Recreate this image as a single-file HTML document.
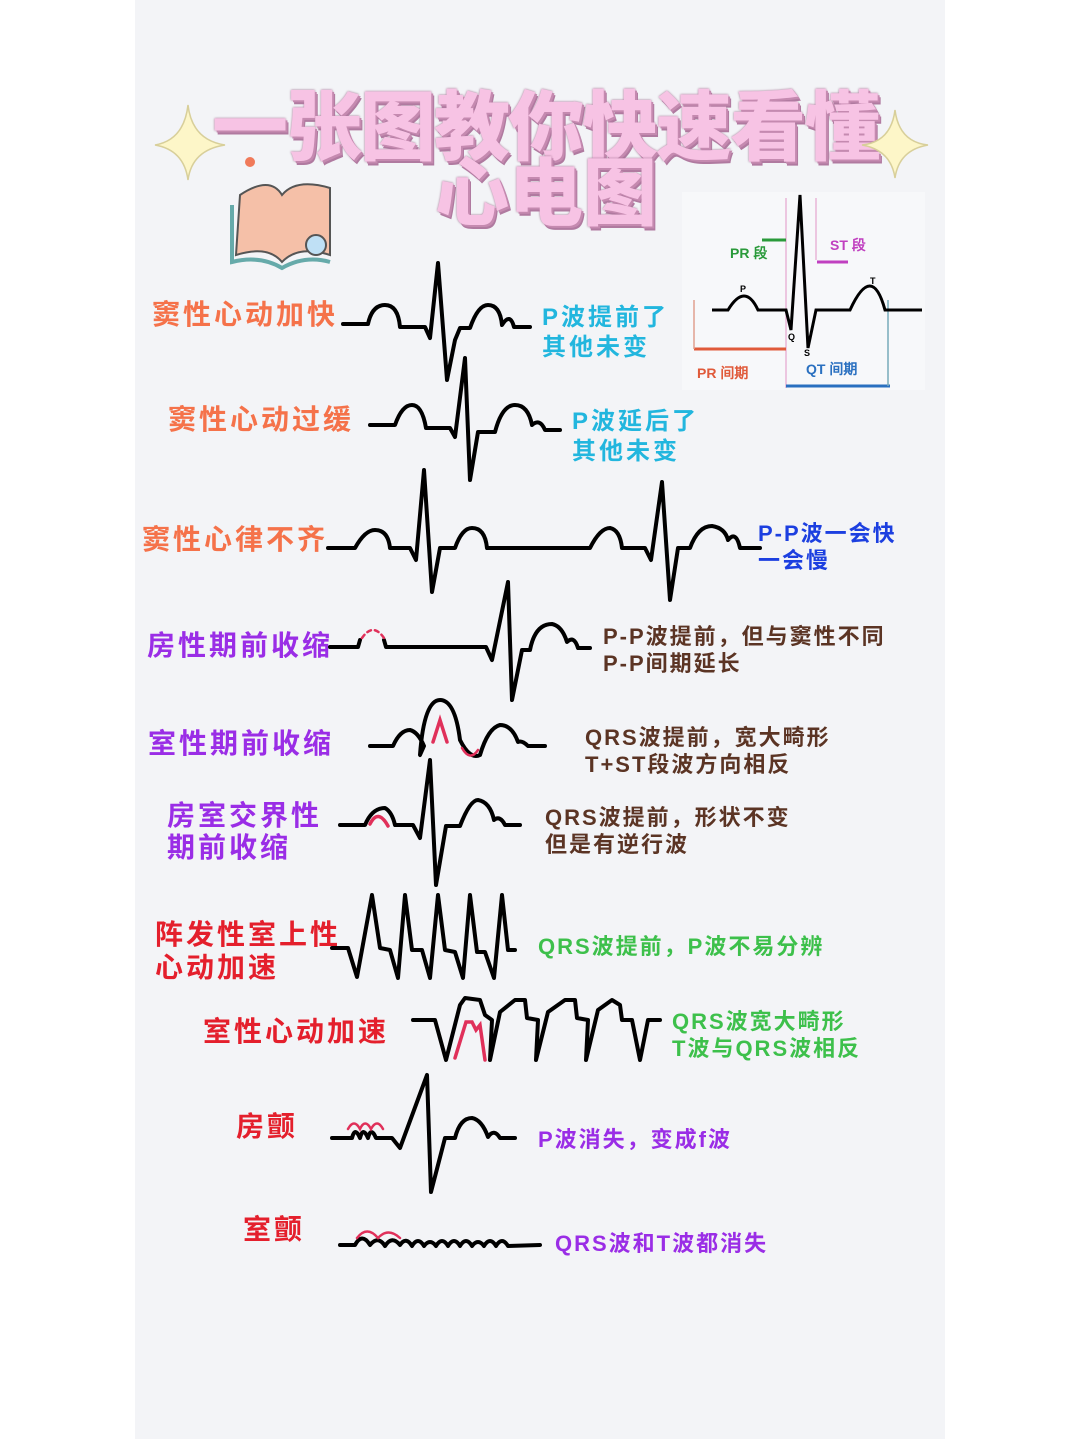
<!DOCTYPE html>
<html><head><meta charset="utf-8"><style>
body{margin:0;width:1080px;height:1439px;background:#fff;position:relative;overflow:hidden;font-family:"Liberation Sans","Noto Sans CJK SC",sans-serif}
#panel{position:absolute;left:135px;top:0;width:810px;height:1439px;background:#f3f4f7}
.t{position:absolute;font-weight:bold;white-space:nowrap;line-height:1.15}
.title{position:absolute;font-weight:900;color:#f7c3e4;text-shadow:2px 2px 0 #c58ab0,3px 4px 0 #b07aa0,0 0 2px #9a6a8a;white-space:nowrap;font-family:"Noto Sans CJK SC",sans-serif}
.or{color:#f5724a;font-size:28px;letter-spacing:3px}.pu{color:#9a2de6;font-size:28px;letter-spacing:3px}.rd{color:#e41f2c;font-size:28px;letter-spacing:3px}
.r{font-size:24px;letter-spacing:3px}
svg{position:absolute;left:0;top:0}
</style></head><body>
<div id="panel"></div>
<div class="title" style="left:212px;top:66px;font-size:76px;letter-spacing:-2px">一张图教你快速看懂</div>
<div class="title" style="left:435px;top:134px;font-size:74px">心电图</div>

<div class="t or" style="left:152px;top:299px">窦性心动加快</div>
<div class="t or" style="left:168px;top:404px">窦性心动过缓</div>
<div class="t or" style="left:142px;top:524px">窦性心律不齐</div>
<div class="t pu" style="left:147px;top:630px">房性期前收缩</div>
<div class="t pu" style="left:148px;top:728px">室性期前收缩</div>
<div class="t pu" style="left:167px;top:800px">房室交界性<br>期前收缩</div>
<div class="t rd" style="left:155px;top:918px;line-height:33px">阵发性室上性<br>心动加速</div>
<div class="t rd" style="left:203px;top:1016px">室性心动加速</div>
<div class="t rd" style="left:236px;top:1111px">房颤</div>
<div class="t rd" style="left:243px;top:1214px">室颤</div>

<div class="t r" style="left:542px;top:303px;color:#22b6de;line-height:30px">P波提前了<br>其他未变</div>
<div class="t r" style="left:572px;top:407px;color:#22b6de;line-height:30px">P波延后了<br>其他未变</div>
<div class="t" style="left:758px;top:520px;color:#1c3fe0;font-size:22px;line-height:27px;letter-spacing:2px">P-P波一会快<br>一会慢</div>
<div class="t" style="left:603px;top:623px;color:#5b3424;font-size:22px;line-height:27px;letter-spacing:2px">P-P波提前，但与窦性不同<br>P-P间期延长</div>
<div class="t" style="left:585px;top:724px;color:#5b3424;font-size:22px;line-height:27px;letter-spacing:2px">QRS波提前，宽大畸形<br>T+ST段波方向相反</div>
<div class="t" style="left:545px;top:804px;color:#5b3424;font-size:22px;line-height:27px;letter-spacing:2px">QRS波提前，形状不变<br>但是有逆行波</div>
<div class="t" style="left:538px;top:934px;color:#3dc04b;font-size:22px;letter-spacing:2px">QRS波提前，P波不易分辨</div>
<div class="t" style="left:672px;top:1008px;color:#3dc04b;font-size:22px;line-height:27px;letter-spacing:2px">QRS波宽大畸形<br>T波与QRS波相反</div>
<div class="t" style="left:538px;top:1127px;color:#9a2de6;font-size:22px;letter-spacing:2px">P波消失，变成f波</div>
<div class="t" style="left:555px;top:1231px;color:#9a2de6;font-size:22px;letter-spacing:2px">QRS波和T波都消失</div>

<svg width="1080" height="1439" viewBox="0 0 1080 1439">
<path d="M188 105 Q192 140 225 145 Q192 150 188 180 Q184 150 155 145 Q184 140 188 105Z" fill="#fdf6c8" stroke="#d8cf9a" stroke-width="1.5"/>
<path d="M895 110 Q899 142 928 145 Q899 150 895 178 Q891 150 862 145 Q891 142 895 110Z" fill="#fdf6c8" stroke="#d8cf9a" stroke-width="1.5"/>
<circle cx="250" cy="162" r="5" fill="#f07a5a"/>
<path d="M240 195 Q270 175 282 195 Q296 178 330 188 L330 255 Q298 245 282 262 Q268 245 236 255Z" fill="#f5c0a8" stroke="#555" stroke-width="2"/>
<path d="M232 205 L232 262 Q260 255 282 268 Q305 255 330 262" fill="none" stroke="#6aa" stroke-width="4"/>
<circle cx="316" cy="245" r="10" fill="#bfe0f5" stroke="#555" stroke-width="2"/>
<rect x="682" y="192" width="243" height="198" fill="#f7f8fa"/>
<g fill="none" stroke-width="1.5">
<line x1="786" y1="198" x2="786" y2="388" stroke="#e8b6d8"/><line x1="816" y1="198" x2="816" y2="260" stroke="#e8b6d8"/>
<line x1="762" y1="240" x2="786" y2="240" stroke="#2a9a3a" stroke-width="3"/>
<line x1="817" y1="262" x2="848" y2="262" stroke="#c040c0" stroke-width="3"/>
<line x1="694" y1="349" x2="786" y2="349" stroke="#e05a3a" stroke-width="3"/>
<line x1="786" y1="386" x2="890" y2="386" stroke="#2a70c0" stroke-width="3"/>
<line x1="888" y1="300" x2="888" y2="386" stroke="#7ab"/><line x1="694" y1="300" x2="694" y2="349" stroke="#e0a090"/>
</g>
<path d="M712 310 L728 310 Q745 282 758 310 L786 310 L791 330 L800 195 L808 348 L816 310 L850 310 Q872 262 885 310 L922 310" fill="none" stroke="#000" stroke-width="3"/>
<g font-family="Liberation Sans" font-weight="bold" font-size="14">
<text x="730" y="258" fill="#2a9a3a">PR 段</text><text x="830" y="250" fill="#c040c0">ST 段</text>
<text x="697" y="378" fill="#e05a3a">PR 间期</text><text x="806" y="374" fill="#2a70c0">QT 间期</text>
<text x="740" y="292" font-size="9">P</text><text x="870" y="284" font-size="9">T</text>
<text x="788" y="340" font-size="9">Q</text><text x="804" y="356" font-size="9">S</text>
</g>
<g fill="none" stroke="#000" stroke-width="4" stroke-linejoin="round" stroke-linecap="round">
<path d="M343 324 L368 324 Q372 305 385 305 Q398 305 400 327 L425 327 L430 338 L438 263 L447 380 L455 340 L460 328 L470 328 Q478 305 488 305 Q500 305 502 325 Q510 312 514 327 L530 327"/>
<path d="M370 425 L395 425 Q402 405 412 405 Q422 405 426 428 L450 428 L455 437 L465 358 L470 480 L478 432 L495 432 Q502 405 515 405 Q528 405 532 425 Q540 418 545 430 L560 430"/>
<path d="M328 548 L355 548 Q365 530 375 530 Q388 530 390 548 L410 548 L416 560 L424 470 L432 592 L440 548 L455 548 Q462 528 472 528 Q485 528 487 548 L590 548 Q600 528 610 528 Q620 530 622 548 L645 548 L651 560 L662 482 L670 600 L678 548 L690 548 Q698 526 712 526 Q725 528 728 540 Q736 530 740 548 L760 548"/>
<path d="M330 647 L358 647 L360 640 M384 640 L386 647 L486 647 L492 660 L508 582 L512 700 L522 650 L530 650 Q535 624 552 624 Q562 626 567 642 Q574 635 578 648 L590 648"/>
<path d="M370 746 L393 746 Q400 730 410 730 Q418 732 424 746 L420 755 Q424 700 440 700 Q455 700 460 740 Q470 760 480 755 Q488 728 500 725 Q512 725 518 742 Q522 740 528 746 L545 746"/>
<path d="M340 825 L365 825 Q372 808 385 808 Q392 812 395 825 L413 825 L420 838 L430 760 L436 885 L446 826 L460 826 Q470 800 478 800 Q490 802 494 820 Q500 815 505 825 L520 825"/>
<path d="M332 948 L348 948 L357 977 L372 895 L380 948 L390 950 L398 978 L405 895 L412 950 L422 950 L430 978 L438 895 L445 950 L455 952 L463 978 L470 895 L477 952 L485 952 L494 978 L502 895 L508 950 L515 950"/>
<path d="M413 1020 L435 1020 L446 1060 L460 1005 L465 998 L480 1000 L485 1015 L492 1020 L490 1060 L500 1012 L515 1000 L525 1000 L527 1018 L538 1020 L536 1060 L548 1012 L565 1000 L575 1000 L577 1018 L588 1020 L586 1060 L598 1010 L612 1000 L620 1005 L622 1020 L632 1020 L640 1060 L648 1020 L660 1020"/>
<path d="M332 1138 L352 1138 Q355 1126 360 1138 Q363 1126 368 1138 Q371 1126 376 1138 L392 1138 L400 1148 L427 1075 L431 1192 L445 1138 L455 1138 Q460 1118 472 1118 Q482 1120 488 1137 Q494 1128 500 1138 L515 1138"/>
<path d="M340 1245 L355 1245 Q362 1232 370 1245 Q378 1235 385 1246 Q392 1235 400 1245 Q406 1236 412 1246 Q418 1236 424 1246 Q430 1238 436 1246 Q442 1236 448 1246 Q454 1236 460 1246 Q466 1236 472 1246 Q478 1238 484 1246 Q490 1236 496 1246 Q502 1236 508 1246 L540 1245"/>
</g>
<g fill="none" stroke="#e0305a" stroke-width="3.5" stroke-linecap="round">
<path d="M362 638 Q373 622 384 638" stroke-dasharray="4 4" stroke-width="2.5"/>
<path d="M433 742 L440 720 L447 742"/><path d="M462 748 Q470 762 478 750" stroke-width="2.5"/>
<path d="M370 824 Q378 808 388 826"/>
<path d="M455 1058 L466 1022 L472 1022 L476 1030 L480 1025 L485 1060"/>
<path d="M348 1129 Q354 1118 360 1129 Q365 1118 371 1129 Q377 1118 383 1129" stroke-width="2.5"/>
<path d="M357 1238 Q367 1225 378 1238 Q388 1227 400 1238" stroke-width="2.5"/>
</g>
</svg>
</body></html>
